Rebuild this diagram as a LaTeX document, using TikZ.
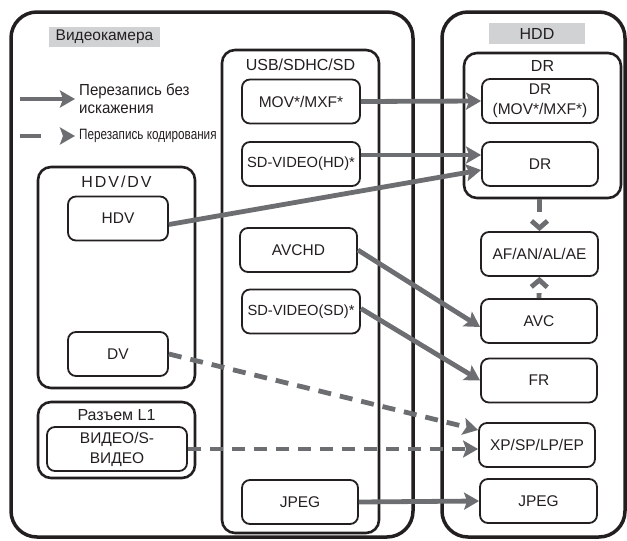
\documentclass[tikz,border=0pt]{standalone}
\usepackage{fontspec}
\usepackage{graphicx}
\setmainfont{Liberation Sans}
\usetikzlibrary{arrows.meta,calc}
\definecolor{ink}{HTML}{231F20}
\definecolor{arr}{HTML}{6D6E71}
\definecolor{lab}{HTML}{D1D2D4}
\begin{document}
\begin{tikzpicture}[x=1pt,y=-1pt,
  box/.style={draw=ink, line width=1.8pt, rounded corners=8pt, minimum width=118pt, minimum height=44pt, inner sep=1pt, align=center, font=\fontsize{15.5}{20}\selectfont, text=ink},
  smallbox/.style={box, font=\fontsize{14.7}{20}\selectfont},
  grp/.style={draw=ink, line width=2.6pt, rounded corners=13pt, inner sep=0pt},
  outer/.style={draw=ink, line width=3.5pt, rounded corners=26pt, inner sep=0pt},
  hdr/.style={font=\fontsize{16}{18}\selectfont, text=ink, inner sep=0pt},
  sarrow/.style={draw=arr, line width=4.8pt, -{Stealth[length=15pt,width=17pt,inset=3pt]}},
  darrow/.style={sarrow, dash pattern=on 13pt off 9pt},
  legdash/.style={sarrow, dash pattern=on 21pt off 40pt},
  vdashA/.style={draw=arr, line width=4.8pt, dash pattern=on 13pt off 30pt, -{Straight Barb[length=7pt,width=16pt]}},
  vdashB/.style={draw=arr, line width=4.8pt, dash pattern=on 5pt off 30pt, -{Straight Barb[length=7pt,width=16pt]}},
]
\useasboundingbox (0,0) rectangle (627,541);

% outer frames
\node[outer, minimum width=402pt, minimum height=525pt] (cam) at (212,274.5) {};
\node[outer, minimum width=183pt, minimum height=525pt] (hdd) at (533.5,274.5) {};
\node[fill=lab, minimum width=111pt, minimum height=20pt, hdr, font=\fontsize{15.5}{18}\selectfont] (camlab) at (104.5,37) {Видеокамера};
\node[fill=lab, minimum width=96pt, minimum height=21pt, hdr] (hddlab) at (537,33.5) {HDD};

% groups
\node[grp, minimum width=157pt, minimum height=483pt] (usb) at (300.5,291.5) {};
\node[hdr] (usblab) at (300.5,65) {USB/SDHC/SD};
\node[grp, minimum width=157pt, minimum height=221pt] (hdvgrp) at (116.5,277.5) {};
\node[hdr] (hdvlab) at (116.5,182) {\addfontfeature{LetterSpace=12}HDV/DV};
\node[grp, minimum width=157pt, minimum height=76pt] (l1grp) at (116.5,440) {};
\node[hdr] (l1lab) at (116.5,415) {Разъем L1};
\node[grp, minimum width=157pt, minimum height=145pt] (drgrp) at (542.5,125.5) {};
\node[hdr] (drlab) at (542.5,66) {DR};

% boxes
\node[box] (mov) at (301,101.5) {MOV*/MXF*};
\node[smallbox] (sdhd) at (301,164) {SD-VIDEO(HD)*};
\node[box, minimum width=117pt] (avchd) at (298.5,250) {AVCHD};
\node[smallbox] (sdsd) at (301,311.5) {SD-VIDEO(SD)*};
\node[box, minimum width=116pt] (jpeg1) at (300,502) {JPEG};
\node[box, minimum width=100pt] (hdv) at (118,218.5) {HDV};
\node[box, minimum width=100pt] (dv) at (118,354) {DV};
\node[box, minimum width=140pt] (video) at (117,449) {ВИДЕО/S-\\ВИДЕО};
\node[box, minimum width=116pt] (drmov) at (540,101) {DR\\(MOV*/MXF*)};
\node[box, minimum width=116pt] (dr) at (540,164) {DR};
\node[box, minimum width=117pt] (af) at (539.5,254) {AF/AN/AL/AE};
\node[box, minimum width=116pt] (avc) at (539,321) {AVC};
\node[box, minimum width=116pt] (fr) at (539,380.5) {FR};
\node[box, minimum width=116pt] (xp) at (537,445) {XP/SP/LP/EP};
\node[box, minimum width=117pt] (jpeg2) at (538.5,501) {JPEG};

% legend
\coordinate (la1) at (20,99);
\coordinate (lb1) at (75,99);
\node[hdr, anchor=west, align=left] (legt1) at (79,99) {\scalebox{0.94}[1]{Перезапись без}\\\scalebox{0.94}[1]{искажения}};
\coordinate (la2) at (20,136);
\coordinate (lb2) at (75,136);
\node[anchor=west, text=ink, inner sep=0pt] (legt2) at (79,136) {\fontsize{15}{17}\selectfont\scalebox{0.78}[1]{Перезапись кодирования}};
\draw[sarrow] (la1) -- (lb1);
\draw[legdash] (la2) -- (lb2);

% connectors
\draw[sarrow] (mov.east) -- (drmov.west);
\draw[sarrow] ([yshift=9pt]sdhd.east) -- ([yshift=9pt]sdhd.east -| dr.west);
\draw[sarrow] ([yshift=-6pt]hdv.east) -- ([yshift=-6pt]dr.west);
\draw[sarrow] (avchd.east) -- ([yshift=-6pt]avc.west);
\draw[sarrow] ([yshift=3pt]sdsd.east) -- (fr.west);
\draw[darrow] (dv.east) -- ([yshift=15pt]xp.west);
\draw[darrow] (video.east) -- (video.east -| xp.west);
\draw[sarrow] (jpeg1.east) -- (jpeg2.west);
\draw[vdashA] (af.north |- drgrp.south) -- (af.north);
\draw[vdashB] (avc.north) -- (af.south);
\end{tikzpicture}
\end{document}
